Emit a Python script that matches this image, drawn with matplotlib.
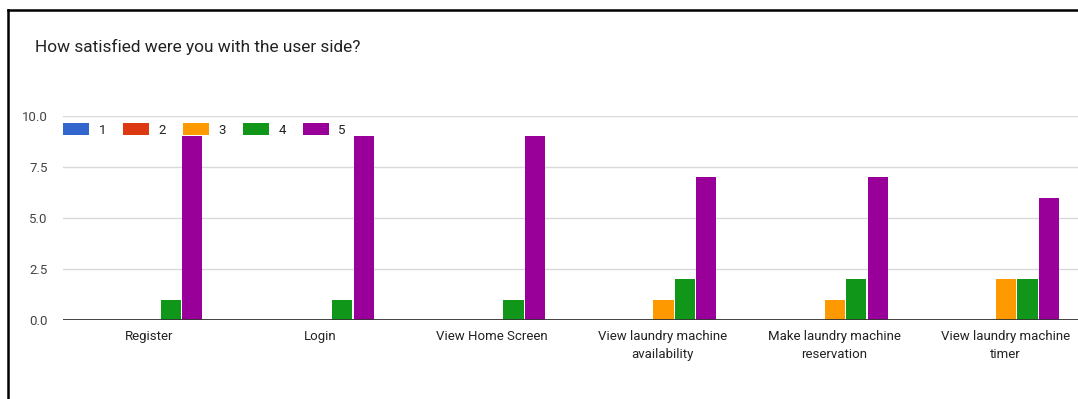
import matplotlib
matplotlib.use("Agg")
import matplotlib.pyplot as plt
from matplotlib.patches import Patch
from matplotlib.lines import Line2D
import numpy as np

plt.rcParams['font.family'] = ['Roboto', 'DejaVu Sans']

title = "How satisfied were you with the user side?"
categories = ["Register", "Login", "View Home Screen",
              "View laundry machine\navailability",
              "Make laundry machine\nreservation",
              "View laundry machine\ntimer"]
series_labels = ["1", "2", "3", "4", "5"]
counts_1 = [0, 0, 0, 0, 0, 0]
counts_2 = [0, 0, 0, 0, 0, 0]
counts_3 = [0, 0, 0, 1, 1, 2]
counts_4 = [1, 1, 1, 2, 2, 2]
counts_5 = [9, 9, 9, 7, 7, 6]
y_ticks = [0.0, 2.5, 5.0, 7.5, 10.0]

colors = ["#3366cc", "#dc3912", "#ff9900", "#109618", "#990099"]
series = [counts_1, counts_2, counts_3, counts_4, counts_5]

W, H = 1078, 399
fig = plt.figure(figsize=(W / 100, H / 100), dpi=100)
# plot area runs slightly past the right edge of the card
ax = fig.add_axes([63 / W, 1 - 320.3 / H, 1028 / W, (320.3 - 116) / H])

x = np.arange(len(categories))
step = 0.125
width = 0.118
for i, (vals, col) in enumerate(zip(series, colors)):
    ax.bar(x + (i - 2) * step + 0.005, vals, width=width, color=col, zorder=3,
           linewidth=0)

ax.set_xlim(-0.5, len(categories) - 0.5)
ax.set_ylim(0, 10)
ax.set_yticks(y_ticks)
ax.set_yticklabels([f"{v:.1f}" for v in y_ticks])
ax.set_xticks(x)
ax.set_xticklabels(categories, fontsize=9.5, color="#222222", linespacing=1.5)
ax.tick_params(axis='both', length=0)
ax.tick_params(axis='y', labelsize=9.5, labelcolor="#444444", pad=11)
ax.tick_params(axis='x', pad=7)
ax.grid(axis='y', color="#d9d9d9", linewidth=1, zorder=0)
for s in ax.spines.values():
    s.set_visible(False)
ax.axhline(0, color="#333333", linewidth=1.3, zorder=4)

handles = [Patch(facecolor=c, edgecolor='none') for c in colors]
ax.legend(handles, series_labels, ncol=5, loc='center left',
          bbox_to_anchor=(0, 0.931), borderaxespad=0, borderpad=0,
          frameon=False, fontsize=9.5, handlelength=2.0, handleheight=0.95,
          handletextpad=0.7, columnspacing=1.28, labelcolor="#222222")

fig.text(35 / W, 1 - 47 / H, title, fontsize=12.4, color="#222222",
         va='center', ha='left')

# frame around the card
fig.add_artist(Line2D([8 / W, 8 / W], [0, 1 - 10 / H],
                      transform=fig.transFigure, color="black", linewidth=1.8))
fig.add_artist(Line2D([8 / W, 1], [1 - 10 / H, 1 - 10 / H],
                      transform=fig.transFigure, color="black", linewidth=1.8))

fig.savefig("out.png", dpi=100, facecolor="white")
